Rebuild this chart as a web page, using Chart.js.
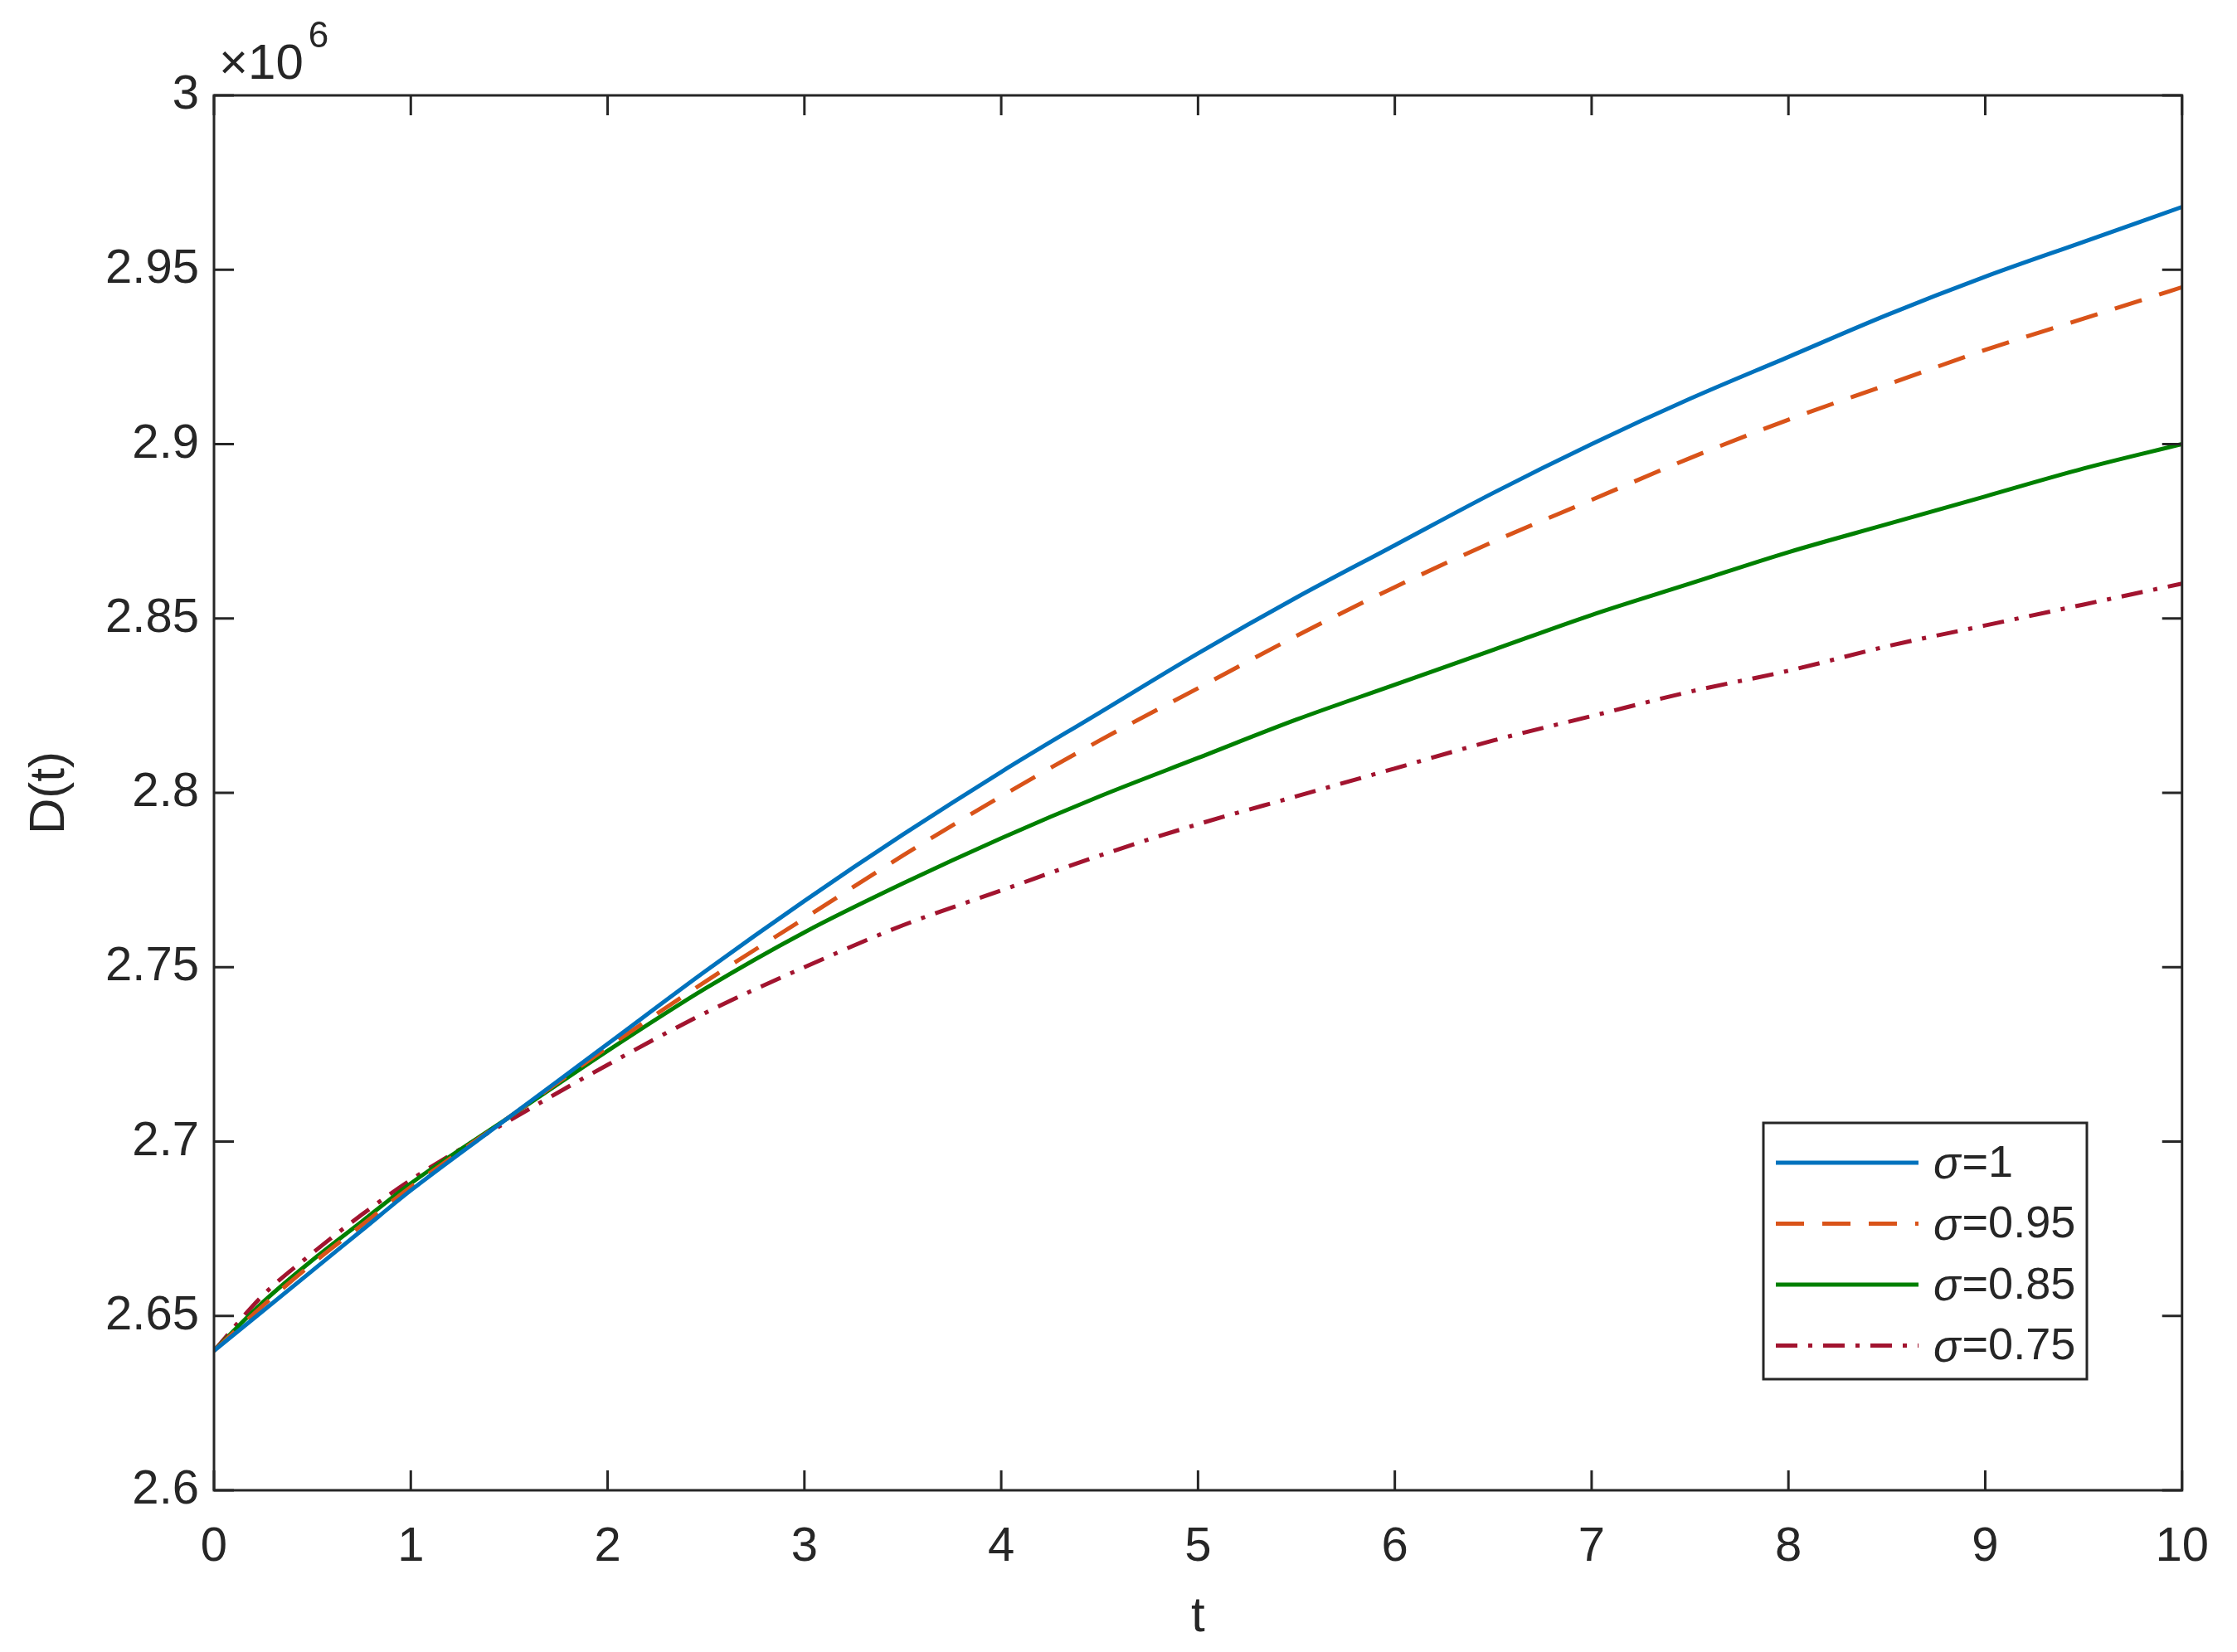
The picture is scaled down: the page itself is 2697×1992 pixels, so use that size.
<!DOCTYPE html>
<html>
<head>
<meta charset="utf-8">
<script src="https://cdn.jsdelivr.net/npm/chart.js@4.4.1/dist/chart.umd.min.js"></script>
<style>
  html, body { margin: 0; padding: 0; background: #fff; }
  #wrap { width: 2697px; height: 1992px; }
</style>
</head>
<body>
<div id="wrap"><canvas id="myChart" width="2697" height="1992"></canvas></div>
<script>
// time points and D(t) values (x 10^6)
const tValues = [0, 0.25, 0.5, 0.75, 1, 1.5, 2, 2.5, 3, 3.5, 4, 4.5, 5, 5.5, 6, 6.5, 7, 7.5, 8, 8.5, 9, 9.5, 10];
const sigma1   = [2.640, 2.6515, 2.663, 2.6745, 2.686, 2.707, 2.728, 2.749, 2.769, 2.788, 2.806, 2.823, 2.840, 2.856, 2.871, 2.886, 2.900, 2.913, 2.925, 2.937, 2.948, 2.958, 2.968];
const sigma095 = [2.640, 2.653, 2.665, 2.676, 2.687, 2.707, 2.727, 2.746, 2.764, 2.782, 2.799, 2.815, 2.830, 2.845, 2.859, 2.872, 2.884, 2.896, 2.907, 2.917, 2.927, 2.936, 2.945];
const sigma085 = [2.640, 2.654, 2.666, 2.677, 2.688, 2.707, 2.726, 2.744, 2.760, 2.774, 2.787, 2.799, 2.810, 2.821, 2.831, 2.841, 2.851, 2.860, 2.869, 2.877, 2.885, 2.893, 2.900];
const sigma075 = [2.640, 2.656, 2.668, 2.679, 2.689, 2.706, 2.722, 2.737, 2.750, 2.762, 2.772, 2.782, 2.791, 2.799, 2.807, 2.815, 2.822, 2.829, 2.835, 2.842, 2.848, 2.854, 2.860];
const seriesNames = ["1", "0.95", "0.85", "0.75"];
const xTicks = [0, 1, 2, 3, 4, 5, 6, 7, 8, 9, 10];
const yTicks = [2.6, 2.65, 2.7, 2.75, 2.8, 2.85, 2.9, 2.95, 3];

const FONT = "'Liberation Sans', Arial, Helvetica, sans-serif";
const INK = "#262626";

function toPoints(ys) {
  return tValues.map((t, i) => ({ x: t, y: ys[i] }));
}

const styles = [
  { color: "#0072BD", dash: [] },
  { color: "#D95319", dash: [34, 22] },
  { color: "#008000", dash: [] },
  { color: "#A2142F", dash: [26, 13, 5, 13] }
];
const allSeries = [sigma1, sigma095, sigma085, sigma075];

const datasets = allSeries.map((ys, i) => ({
  label: "σ=" + seriesNames[i],
  data: toPoints(ys),
  borderColor: styles[i].color,
  borderDash: styles[i].dash,
  borderWidth: 5,
  pointRadius: 0,
  fill: false,
  cubicInterpolationMode: "monotone"
}));

// box, inward ticks, legend and exponent label in MATLAB style
const matlabFrame = {
  id: "matlabFrame",
  afterDraw(chart) {
    const ctx = chart.ctx;
    const a = chart.chartArea;
    const xs = chart.scales.x, ys = chart.scales.y;
    const tl = 24;
    ctx.save();
    ctx.strokeStyle = INK;
    ctx.lineWidth = 3;
    ctx.strokeRect(a.left, a.top, a.right - a.left, a.bottom - a.top);
    ctx.beginPath();
    xTicks.forEach(v => {
      const px = xs.getPixelForValue(v);
      ctx.moveTo(px, a.bottom); ctx.lineTo(px, a.bottom - tl);
      ctx.moveTo(px, a.top); ctx.lineTo(px, a.top + tl);
    });
    yTicks.forEach(v => {
      const py = ys.getPixelForValue(v);
      ctx.moveTo(a.left, py); ctx.lineTo(a.left + tl, py);
      ctx.moveTo(a.right, py); ctx.lineTo(a.right - tl, py);
    });
    ctx.stroke();

    // exponent
    ctx.fillStyle = INK;
    ctx.textBaseline = "alphabetic";
    ctx.textAlign = "left";
    ctx.font = "60px " + FONT;
    ctx.fillText("×10", a.left + 6, a.top - 20);
    const w = ctx.measureText("×10").width;
    ctx.font = "44px " + FONT;
    ctx.fillText("6", a.left + 12 + w, a.top - 58);

    // legend
    const lx = 2126, ly = 1354, lw = 390, lh = 309;
    ctx.fillStyle = "#fff";
    ctx.fillRect(lx, ly, lw, lh);
    ctx.lineWidth = 3;
    ctx.strokeStyle = INK;
    ctx.strokeRect(lx, ly, lw, lh);
    chart.data.datasets.forEach((ds, i) => {
      const y = ly + 48 + i * 73.5;
      ctx.beginPath();
      ctx.setLineDash(ds.borderDash);
      ctx.strokeStyle = ds.borderColor;
      ctx.lineWidth = 5;
      ctx.moveTo(lx + 15, y);
      ctx.lineTo(lx + 187, y);
      ctx.stroke();
      ctx.setLineDash([]);
      ctx.fillStyle = INK;
      ctx.textBaseline = "middle";
      ctx.font = "italic 54px " + FONT;
      ctx.fillText("σ", lx + 205, y + 4);
      const sw = ctx.measureText("σ").width;
      ctx.font = "54px " + FONT;
      ctx.fillText("=" + seriesNames[i], lx + 207 + sw, y + 2);
    });
    ctx.restore();
  }
};

new Chart(document.getElementById("myChart"), {
  type: "line",
  data: { datasets: datasets },
  options: {
    responsive: false,
    animation: false,
    devicePixelRatio: 1,
    layout: { padding: { top: 115, right: 57, left: 0, bottom: 0 } },
    plugins: {
      legend: { display: false },
      tooltip: { enabled: false }
    },
    scales: {
      x: {
        type: "linear",
        min: 0,
        max: 10,
        afterFit: s => { s.height = 195; },
        afterBuildTicks: s => { s.ticks = xTicks.map(v => ({ value: v })); },
        grid: { display: false, drawTicks: false },
        border: { display: false },
        ticks: {
          padding: 34,
          color: INK,
          font: { family: FONT, size: 58 },
          maxRotation: 0
        },
        title: {
          display: true,
          text: "t",
          color: INK,
          font: { family: FONT, size: 60 },
          padding: { top: 0, bottom: 6 }
        }
      },
      y: {
        type: "linear",
        min: 2.6,
        max: 3,
        afterFit: s => { s.width = 258; },
        afterBuildTicks: s => { s.ticks = yTicks.map(v => ({ value: v })); },
        grid: { display: false, drawTicks: false },
        border: { display: false },
        ticks: {
          padding: 18,
          color: INK,
          font: { family: FONT, size: 58 },
          callback: v => String(Number(v.toFixed(2)))
        },
        title: {
          display: true,
          text: "D(t)",
          color: INK,
          font: { family: FONT, size: 60 },
          padding: { top: 24, bottom: 0 }
        }
      }
    }
  },
  plugins: [matlabFrame]
});
</script>
</body>
</html>
